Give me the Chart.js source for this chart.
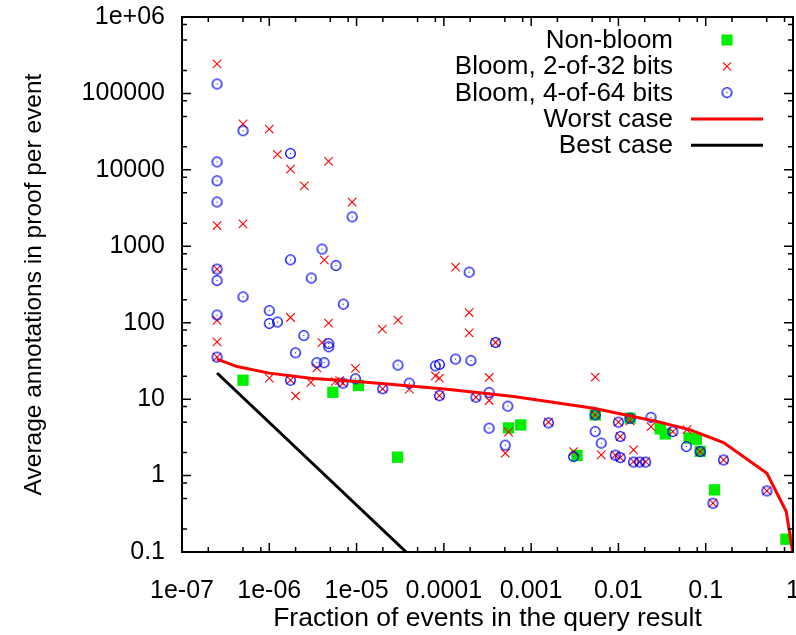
<!DOCTYPE html>
<html lang="en">
<head>
<meta charset="UTF-8">
<title>Annotations in proof per event</title>
<script src="https://cdn.jsdelivr.net/npm/chart.js"></script>
<style>
  html, body { margin: 0; padding: 0; background: #fff; }
  #wrap { width: 796px; height: 635px; }
</style>
</head>
<body>
<div id="wrap"><canvas id="chart" width="796" height="635"></canvas></div>
<script>
// values
const nonBloomX = [5e-7, 5.35e-6, 1.05e-5, 2.95e-5, 5.5e-4, 7.6e-4, 3.35e-3, 5.42e-3, 0.0136, 0.0301, 0.0344, 0.0647, 0.078, 0.0865, 0.126, 0.83];
const nonBloomY = [17.7, 12.3, 15.1, 1.74, 4.2, 4.6, 1.83, 6.23, 5.64, 4.09, 3.51, 3.1, 2.99, 2.08, 0.65, 0.147];

const bloom2X = [2.52e-7, 2.52e-7, 2.52e-7, 2.52e-7, 2.52e-7, 2.52e-7, 5e-7, 5e-7, 1e-6, 1e-6, 1.24e-6,
  1.75e-6, 1.75e-6, 1.75e-6, 2.0e-6, 2.52e-6, 3.0e-6, 3.51e-6, 4.02e-6, 4.27e-6, 4.78e-6, 4.78e-6,
  5.7e-6, 6.4e-6, 6.98e-6, 8.9e-6, 9.7e-6, 1.97e-5, 1.99e-5, 2.98e-5, 4.02e-5, 8.0e-5, 8.9e-5, 8.9e-5,
  1.36e-4, 1.95e-4, 1.95e-4, 2.33e-4, 3.3e-4, 3.3e-4, 3.91e-4, 5.05e-4, 5.5e-4, 1.58e-3, 3.06e-3,
  5.42e-3, 5.42e-3, 6.35e-3, 0.0092, 0.0105, 0.01, 0.0105, 0.0136, 0.0149, 0.0149, 0.0175, 0.0205,
  0.0236, 0.042, 0.061, 0.0865, 0.121, 0.16, 0.502];
const bloom2Y = [2.43e5, 1870, 503, 107, 56.2, 35.5, 4.0e4, 1970, 3.42e4, 18.8, 1.59e4,
  1.02e4, 117, 17.7, 11.0, 6190, 16.6, 25.7, 55, 666, 1.29e4, 98.8,
  16.9, 17.5, 16.2, 3790, 25.2, 82.4, 13.6, 108, 13.5, 20.1, 18.8, 11.1,
  534, 136, 73.8, 10.6, 19.2, 9.6, 55.1, 1.96, 3.7, 5.0, 2.06,
  19.4, 6.23, 1.87, 1.85, 1.72, 5.0, 3.24, 5.2, 2.17, 1.52, 1.52, 1.52,
  4.38, 3.77, 4.0, 2.06, 0.435, 1.6, 0.63];

const bloom4X = [2.52e-7, 2.52e-7, 2.52e-7, 2.52e-7, 2.52e-7, 2.52e-7, 2.52e-7, 2.52e-7, 5e-7, 5e-7,
  1e-6, 1e-6, 1.24e-6, 1.75e-6, 1.75e-6, 1.75e-6, 2.0e-6, 2.49e-6, 3.03e-6, 3.5e-6, 4.02e-6, 4.25e-6,
  4.8e-6, 4.8e-6, 5.81e-6, 7.05e-6, 6.98e-6, 8.9e-6, 9.7e-6, 1.99e-5, 2.98e-5, 4.02e-5, 8.0e-5, 8.9e-5,
  8.9e-5, 1.36e-4, 1.95e-4, 2.04e-4, 2.33e-4, 3.3e-4, 3.3e-4, 3.91e-4, 5.05e-4, 5.4e-4, 1.58e-3,
  3.06e-3, 5.42e-3, 5.42e-3, 6.35e-3, 0.0092, 0.0105, 0.01, 0.0105, 0.0136, 0.0149, 0.0175, 0.0205,
  0.0236, 0.042, 0.06, 0.0865, 0.121, 0.16, 0.502];
const bloom4Y = [1.33e5, 12700, 7200, 3800, 503, 357, 126, 35.5, 3.25e4, 218,
  144, 97.7, 102, 1.64e4, 666, 17.7, 40.4, 68, 384, 30, 919, 30,
  53.4, 48.4, 561, 175, 16.2, 2430, 18.5, 13.7, 27.9, 16.2, 27.2, 28.4,
  11.1, 33.4, 459, 32, 10.6, 12.2, 4.17, 55.1, 2.5, 8.1, 4.9,
  1.77, 6.23, 3.77, 2.66, 1.85, 1.72, 5.0, 3.24, 5.64, 1.5, 1.5, 1.5,
  5.78, 3.77, 2.4, 2.06, 0.435, 1.6, 0.63];

const worstX = [2.52e-7, 4.27e-7, 1e-6, 2.95e-6, 1.01e-5, 2.43e-5, 1.08e-4, 6.3e-4, 5.2e-3, 0.0276, 0.0665, 0.16, 0.502, 0.836, 0.99];
const worstY = [33.4, 26.7, 21.9, 18.8, 17.0, 15.7, 13.5, 10.8, 7.6, 5.09, 3.96, 2.70, 1.07, 0.338, 0.1];

const bestX = [2.52e-7, 3.7e-5];
const bestY = [22.0, 0.1];

const xTickValues = [1e-7, 1e-6, 1e-5, 1e-4, 1e-3, 1e-2, 1e-1, 1];
const xTickLabels = ['1e-07', '1e-06', '1e-05', '0.0001', '0.001', '0.01', '0.1', '1'];
const yTickValues = [0.1, 1, 10, 100, 1000, 1e4, 1e5, 1e6];
const yTickLabels = ['0.1', '1', '10', '100', '1000', '10000', '100000', '1e+06'];

const FONT = "'Liberation Sans', Arial, sans-serif";

function zip(xs, ys) {
  return xs.map((x, i) => ({ x: x, y: ys[i] }));
}

// blue open circle with a dot in the middle, like gnuplot's point type 6
function circleDot(color) {
  const c = document.createElement('canvas');
  c.width = 13; c.height = 13;
  const g = c.getContext('2d');
  g.strokeStyle = color;
  g.lineWidth = 1.3;
  g.beginPath();
  g.arc(6.5, 6.5, 4.8, 0, Math.PI * 2);
  g.stroke();
  g.fillStyle = color;
  g.fillRect(6, 6, 1, 1);
  return c;
}
const blueMark = circleDot('#0000ff');

// gnuplot style frame with inward ticks on all four sides
const frameTicks = {
  id: 'frameTicks',
  afterDatasetsDraw(chart) {
    const { ctx, chartArea: a, scales } = chart;
    ctx.save();
    ctx.strokeStyle = '#000';
    ctx.lineWidth = 1.5;
    ctx.beginPath();
    const minors = [2, 5, 8];
    for (let d = -7; d <= 0; d++) {
      const px = scales.x.getPixelForValue(Math.pow(10, d));
      ctx.moveTo(px, a.bottom); ctx.lineTo(px, a.bottom - 9);
      ctx.moveTo(px, a.top); ctx.lineTo(px, a.top + 9);
      if (d < 0) minors.forEach(m => {
        const p = scales.x.getPixelForValue(m * Math.pow(10, d));
        ctx.moveTo(p, a.bottom); ctx.lineTo(p, a.bottom - 5);
        ctx.moveTo(p, a.top); ctx.lineTo(p, a.top + 5);
      });
    }
    for (let d = -1; d <= 6; d++) {
      const py = scales.y.getPixelForValue(Math.pow(10, d));
      ctx.moveTo(a.left, py); ctx.lineTo(a.left + 9, py);
      ctx.moveTo(a.right, py); ctx.lineTo(a.right - 9, py);
      if (d < 6) minors.forEach(m => {
        const p = scales.y.getPixelForValue(m * Math.pow(10, d));
        ctx.moveTo(a.left, p); ctx.lineTo(a.left + 5, p);
        ctx.moveTo(a.right, p); ctx.lineTo(a.right - 5, p);
      });
    }
    ctx.stroke();
    ctx.lineWidth = 2;
    ctx.strokeRect(a.left, a.top, a.right - a.left, a.bottom - a.top);
    ctx.restore();
  }
};

// legend in the top right corner, text right aligned, sample on the right
const keyBox = {
  id: 'keyBox',
  afterDraw(chart) {
    const ctx = chart.ctx;
    const textRight = 673, sampleX = 727, lineL = 691, lineR = 763;
    ctx.save();
    ctx.font = '26px ' + FONT;
    ctx.textAlign = 'right';
    ctx.textBaseline = 'middle';
    ctx.fillStyle = '#000';
    chart.data.datasets.forEach((ds, i) => {
      const y = 40 + i * 26.3;
      ctx.fillText(ds.label, textRight, y + 1);
      if (ds.showLine) {
        ctx.strokeStyle = ds.borderColor;
        ctx.lineWidth = ds.borderWidth;
        ctx.beginPath();
        ctx.moveTo(lineL, y); ctx.lineTo(lineR, y);
        ctx.stroke();
      } else if (ds.pointStyle === 'rect') {
        ctx.fillStyle = ds.backgroundColor;
        ctx.fillRect(sampleX - 5.5, y - 5.5, 11, 11);
        ctx.fillStyle = '#000';
      } else if (ds.pointStyle === 'crossRot') {
        ctx.strokeStyle = ds.borderColor;
        ctx.lineWidth = 1.1;
        ctx.beginPath();
        ctx.moveTo(sampleX - 4, y - 4); ctx.lineTo(sampleX + 4, y + 4);
        ctx.moveTo(sampleX - 4, y + 4); ctx.lineTo(sampleX + 4, y - 4);
        ctx.stroke();
      } else {
        ctx.drawImage(ds.pointStyle, sampleX - 6.5, y - 6.5);
      }
    });
    ctx.restore();
  }
};

new Chart(document.getElementById('chart'), {
  type: 'scatter',
  data: {
    datasets: [
      {
        label: 'Non-bloom',
        data: zip(nonBloomX, nonBloomY),
        pointStyle: 'rect',
        pointRadius: 8,
        backgroundColor: '#00ee00',
        borderWidth: 0,
        order: 5
      },
      {
        label: 'Bloom, 2-of-32 bits',
        data: zip(bloom2X, bloom2Y),
        pointStyle: 'crossRot',
        pointRadius: 6,
        borderColor: '#ff0000',
        borderWidth: 1.1,
        order: 4
      },
      {
        label: 'Bloom, 4-of-64 bits',
        data: zip(bloom4X, bloom4Y),
        pointStyle: blueMark,
        pointRadius: 5,
        order: 3
      },
      {
        label: 'Worst case',
        data: zip(worstX, worstY),
        showLine: true,
        pointRadius: 0,
        borderColor: '#ff0000',
        borderWidth: 3,
        tension: 0,
        order: 2
      },
      {
        label: 'Best case',
        data: zip(bestX, bestY),
        showLine: true,
        pointRadius: 0,
        borderColor: '#000000',
        borderWidth: 3,
        tension: 0,
        order: 1
      }
    ]
  },
  options: {
    responsive: false,
    animation: false,
    events: [],
    layout: { autoPadding: false, padding: { left: 0, right: 3, top: 17, bottom: 0 } },
    plugins: {
      legend: { display: false },
      tooltip: { enabled: false }
    },
    scales: {
      x: {
        type: 'logarithmic',
        min: 1e-7,
        max: 1,
        grid: { display: false, drawTicks: false },
        border: { display: false },
        afterBuildTicks: s => { s.ticks = xTickValues.map(v => ({ value: v })); },
        afterFit: s => { s.height = 83; s.paddingLeft = 0; s.paddingRight = 0; },
        ticks: {
          autoSkip: false,
          maxRotation: 0,
          padding: 24,
          color: '#000',
          font: { family: FONT, size: 25 },
          callback: (v, i) => xTickLabels[i]
        },
        title: {
          display: true,
          text: 'Fraction of events in the query result',
          color: '#000',
          font: { family: FONT, size: 26.5 },
          padding: { top: 0, bottom: 0 }
        }
      },
      y: {
        type: 'logarithmic',
        min: 0.1,
        max: 1e6,
        grid: { display: false, drawTicks: false },
        border: { display: false },
        afterBuildTicks: s => { s.ticks = yTickValues.map(v => ({ value: v })); },
        afterFit: s => { s.width = 182; s.paddingTop = 0; s.paddingBottom = 0; },
        ticks: {
          autoSkip: false,
          padding: 17,
          color: '#000',
          font: { family: FONT, size: 25 },
          callback: (v, i) => yTickLabels[i]
        },
        title: {
          display: true,
          text: 'Average annotations in proof per event',
          color: '#000',
          font: { family: FONT, size: 24.5 },
          padding: { top: 20, bottom: 0 }
        }
      }
    }
  },
  plugins: [frameTicks, keyBox]
});
</script>
</body>
</html>
